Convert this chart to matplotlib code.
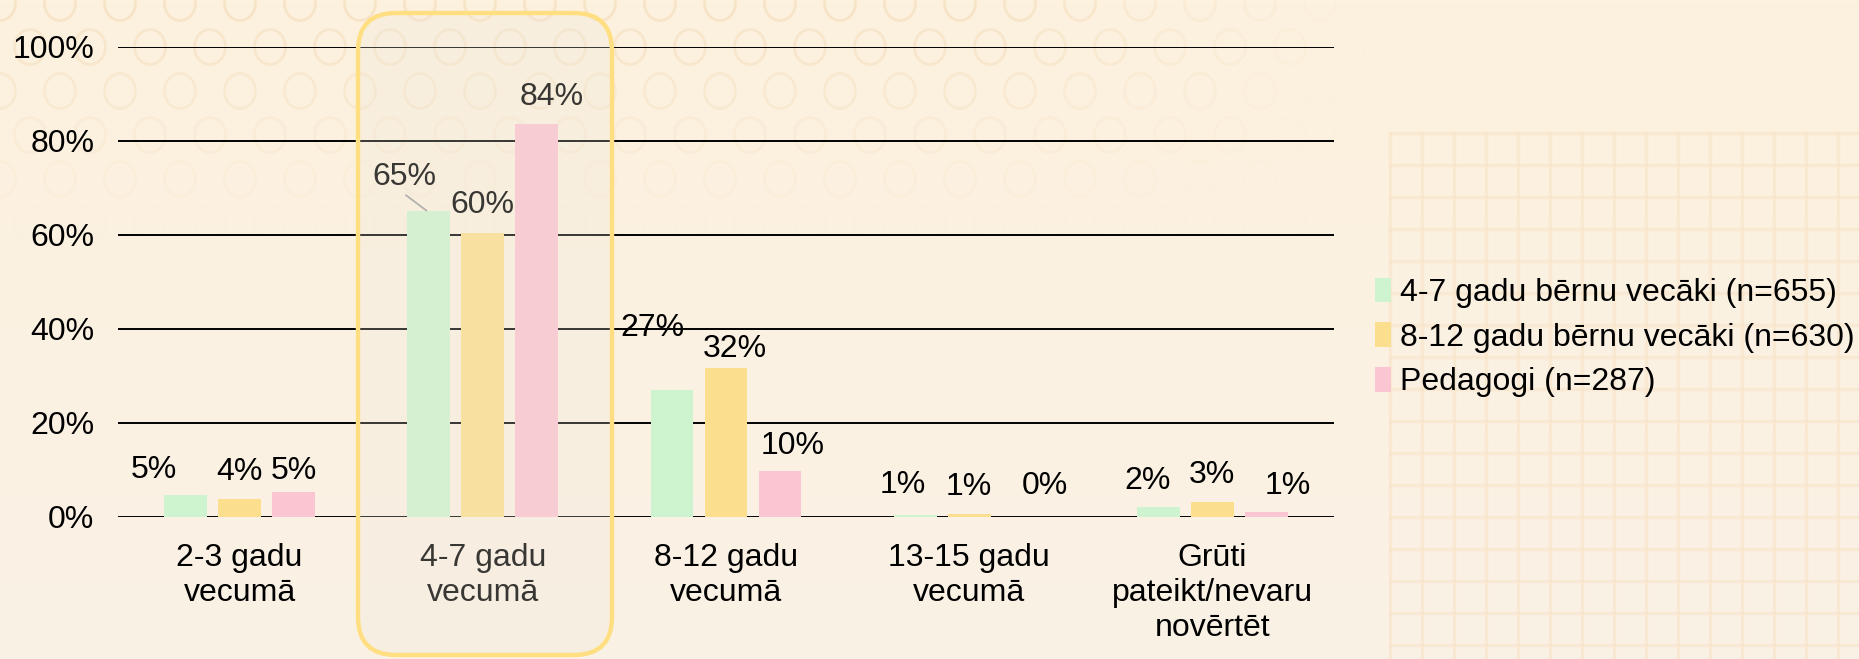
import matplotlib
matplotlib.use("Agg")
import matplotlib.pyplot as plt
import numpy as np
from matplotlib.patches import FancyBboxPatch, Ellipse

plt.rcParams['font.family'] = ['Liberation Sans', 'DejaVu Sans']

categories = ["2-3 gadu\nvecumā", "4-7 gadu\nvecumā", "8-12 gadu\nvecumā",
              "13-15 gadu\nvecumā", "Grūti\npateikt/nevaru\nnovērtēt"]
series_names = ["4-7 gadu bērnu vecāki (n=655)", "8-12 gadu bērnu vecāki (n=630)",
                "Pedagogi (n=287)"]
parents_4_7 = [4.6, 65.2, 27.0, 0.4, 2.2]
parents_8_12 = [3.9, 60.4, 31.6, 0.7, 3.2]
teachers = [5.3, 83.6, 9.8, 0.0, 1.0]
labels_4_7 = ["5%", "65%", "27%", "1%", "2%"]
labels_8_12 = ["4%", "60%", "32%", "1%", "3%"]
labels_teachers = ["5%", "84%", "10%", "0%", "1%"]
y_ticks = [0, 20, 40, 60, 80, 100]
y_tick_labels = ["0%", "20%", "40%", "60%", "80%", "100%"]

colors = ["#CDF4CF", "#FBDE8E", "#FBC6D2"]
FS = 23
# label offsets (pixels) relative to bar top centre
offsets = [
    [(-32, 25), (-22, 34), (-20, 62), (-12, 30), (-11, 26)],
    [(0, 27), (0, 28), (9, 19), (0, 27), (0, 27)],
    [(0, 21), (15, 27), (13, 25), (22, 31), (21, 26)],
]

W, H = 1859, 659
fig = plt.figure(figsize=(W / 100, H / 100), dpi=100)

# background
bg = fig.add_axes([0, 0, 1, 1], zorder=-10)
bg.set_xlim(0, W)
bg.set_ylim(H, 0)
bg.axis('off')
grad = np.linspace(0, 1, 200)[:, None]
top = np.array([253, 242, 222]) / 255
bot = np.array([250, 241, 230]) / 255
img = top[None, None, :] * (1 - grad[..., None]) + bot[None, None, :] * grad[..., None]
img = np.repeat(img, 2, axis=1)
bg.imshow(img, extent=[0, W, H, 0], aspect='auto', zorder=0)
# circle pattern
for r, yc in enumerate(np.arange(3, 240, 44)):
    alpha = max(0.0, 0.42 - yc / 560)
    xoff = 0 if r % 2 == 0 else 30
    for xc in np.arange(xoff, 1360, 60):
        fade = alpha * max(0.0, 1 - max(0, xc - 1000) / 360)
        bg.add_patch(Ellipse((xc, yc), 31, 35, fill=False, ec="#F0D3AA",
                             lw=2.0, alpha=fade, zorder=1))
# grid pattern on right
for gx in np.arange(1390, W, 32):
    bg.plot([gx, gx], [133, H], color="#F9E3C4", lw=2.4, alpha=0.5, zorder=1)
for gy in np.arange(133, H, 32):
    bg.plot([1390, W], [gy, gy], color="#F9E3C4", lw=2.4, alpha=0.5, zorder=1)

ax = fig.add_axes([118 / W, 1 - 517 / H, (1334 - 118) / W, (517 - 47) / H])
ax.set_facecolor('none')
x = np.arange(len(categories))
step = 0.222
width = 0.176
series = [parents_4_7, parents_8_12, teachers]
labels = [labels_4_7, labels_8_12, labels_teachers]
for i, (vals, col, name) in enumerate(zip(series, colors, series_names)):
    xs = x + (i - 1) * step
    ax.bar(xs, vals, width=width, color=col, label=name, zorder=3)
    for j, (xv, v, lab) in enumerate(zip(xs, vals, labels[i])):
        dx, dy = offsets[i][j]
        if i == 0 and j == 1:
            ax.annotate(lab, xy=(xv - 0.01, v), xytext=(dx, dy),
                        textcoords='offset pixels', ha='center', va='center',
                        fontsize=FS, color='black', zorder=4,
                        arrowprops=dict(arrowstyle='-', color='#A0A0A0', lw=1.3,
                                        relpos=(0.45, 0.0), shrinkA=1, shrinkB=0))
        else:
            ax.annotate(lab, xy=(xv, v), xytext=(dx, dy),
                        textcoords='offset pixels', ha='center', va='center',
                        fontsize=FS, color='black', zorder=4)

ax.set_xlim(-0.5, len(categories) - 0.5)
ax.set_ylim(0, 100)
ax.set_yticks(y_ticks)
ax.set_yticklabels(y_tick_labels, fontsize=FS)
ax.set_xticks(x)
ax.set_xticklabels(categories, fontsize=FS, linespacing=1.2, va='top')
ax.tick_params(axis='both', length=0)
ax.tick_params(axis='x', pad=19)
ax.tick_params(axis='y', pad=17)
ax.grid(axis='y', color='black', lw=1.4, zorder=1)
ax.set_axisbelow(True)
for s in ax.spines.values():
    s.set_visible(False)

leg = fig.legend(loc='upper left', bbox_to_anchor=(1362 / W, 1 - 265 / H),
                 frameon=False, fontsize=FS, handlelength=0.5, handleheight=0.8,
                 handletextpad=0.28, labelspacing=0.45, borderaxespad=0)

# highlight box (overlay)
ov = fig.add_axes([0, 0, 1, 1], zorder=10)
ov.set_xlim(0, W)
ov.set_ylim(H, 0)
ov.axis('off')
ov.add_patch(FancyBboxPatch((358, 13), 254, 642, boxstyle="round,pad=0,rounding_size=38",
                            fc="#EEE7DA", alpha=0.24, ec='none'))
ov.add_patch(FancyBboxPatch((358, 13), 254, 642, boxstyle="round,pad=0,rounding_size=38",
                            fc='none', ec="#FFDF82", lw=3.2))

fig.savefig("out.png", dpi=100)
